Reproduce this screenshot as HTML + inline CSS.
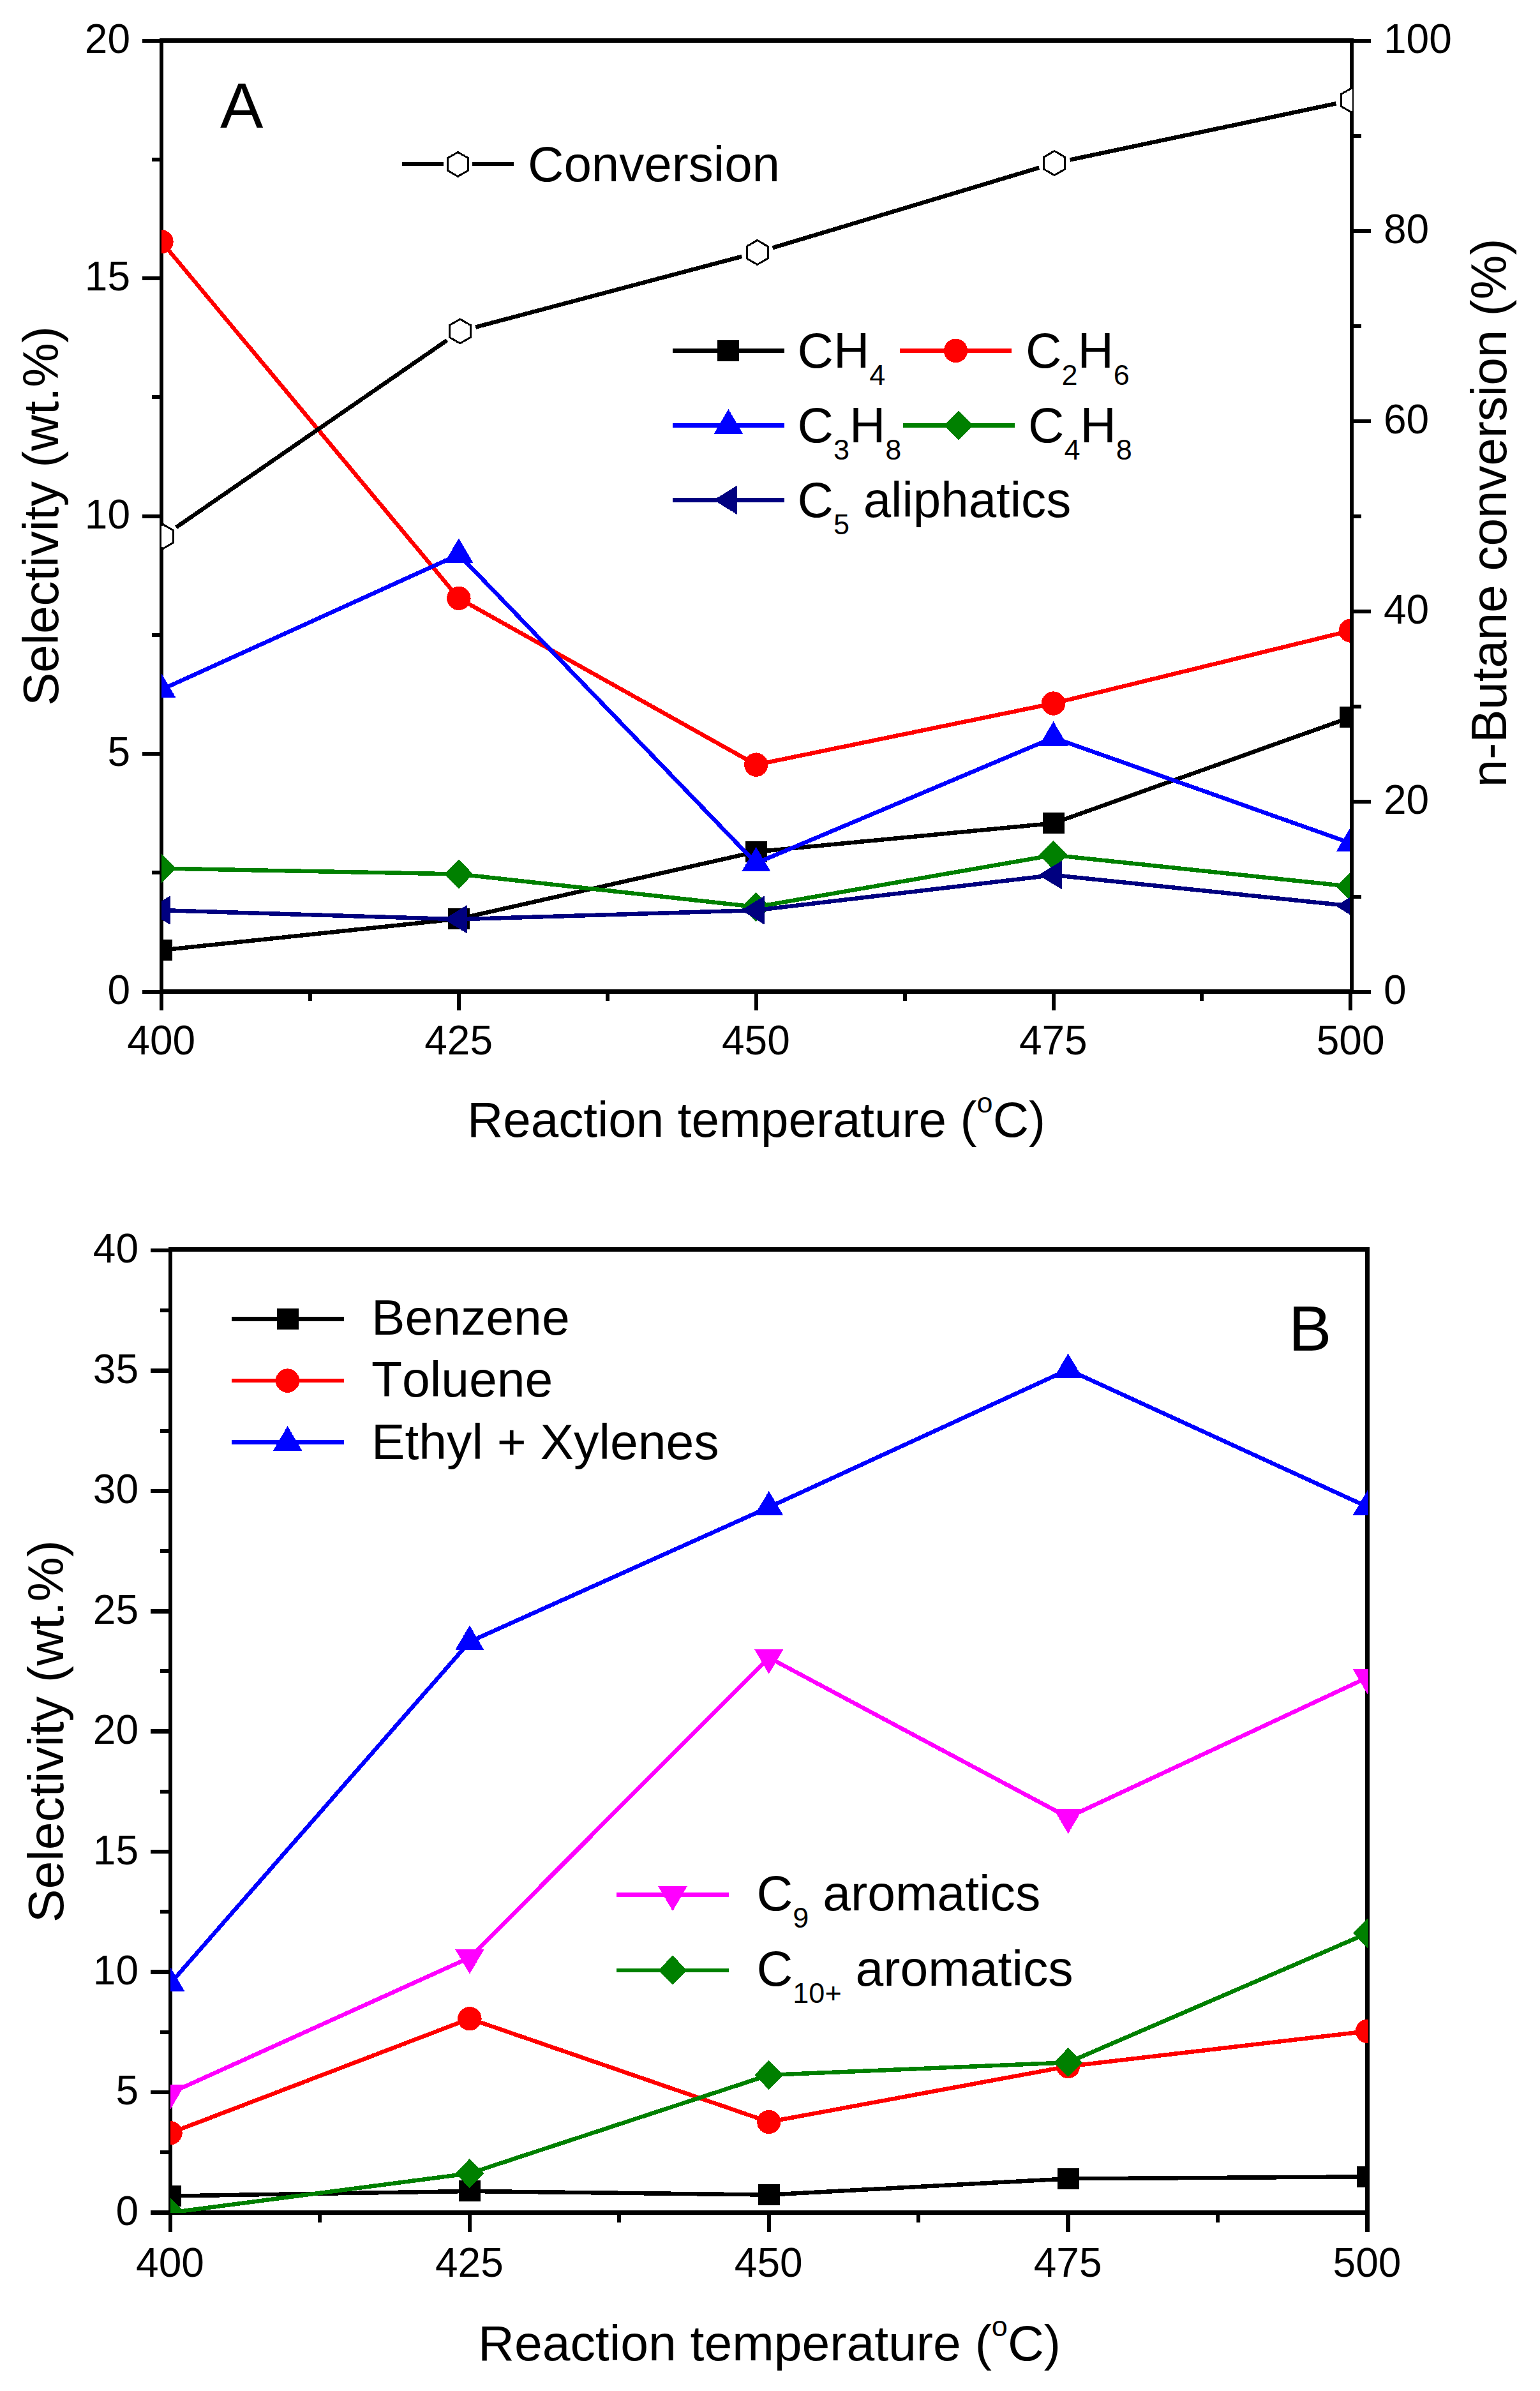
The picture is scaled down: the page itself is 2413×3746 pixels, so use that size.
<!DOCTYPE html>
<html><head><meta charset="utf-8"><title>Figure</title>
<style>html,body{margin:0;padding:0;background:#fff}svg{display:block}text{font-kerning:none;font-family:"Liberation Sans",Arial,Helvetica,sans-serif;fill:#000}</style>
</head><body>
<svg width="2413" height="3746" viewBox="0 0 2413 3746">
<rect width="2413" height="3746" fill="#fff"/>
<defs>
<clipPath id="ca"><rect x="253" y="40" width="1863" height="1513.5"/></clipPath>
<clipPath id="ca2"><rect x="253" y="40" width="1866" height="1513.5"/></clipPath>
<clipPath id="cb"><rect x="267" y="1940" width="1876.8" height="1527"/></clipPath>
</defs>

<g shape-rendering="crispEdges">
<line x1="253.00" y1="60.25" x2="253.00" y2="1556.75" stroke="#000" stroke-width="6.5"/>
<line x1="249.75" y1="63.50" x2="2121.05" y2="63.50" stroke="#000" stroke-width="7"/>
<line x1="249.75" y1="1553.50" x2="2121.05" y2="1553.50" stroke="#000" stroke-width="7"/>
<line x1="222.60" y1="1553.90" x2="253.00" y2="1553.90" stroke="#000" stroke-width="6"/>
<line x1="222.60" y1="1181.40" x2="253.00" y2="1181.40" stroke="#000" stroke-width="6"/>
<line x1="222.60" y1="808.90" x2="253.00" y2="808.90" stroke="#000" stroke-width="6"/>
<line x1="222.60" y1="436.40" x2="253.00" y2="436.40" stroke="#000" stroke-width="6"/>
<line x1="222.60" y1="63.90" x2="253.00" y2="63.90" stroke="#000" stroke-width="6"/>
<line x1="237.70" y1="1367.25" x2="253.00" y2="1367.25" stroke="#000" stroke-width="6"/>
<line x1="237.70" y1="994.75" x2="253.00" y2="994.75" stroke="#000" stroke-width="6"/>
<line x1="237.70" y1="622.25" x2="253.00" y2="622.25" stroke="#000" stroke-width="6"/>
<line x1="237.70" y1="249.75" x2="253.00" y2="249.75" stroke="#000" stroke-width="6"/>
<line x1="253.00" y1="1553.50" x2="253.00" y2="1582.50" stroke="#000" stroke-width="6"/>
<line x1="718.85" y1="1553.50" x2="718.85" y2="1582.50" stroke="#000" stroke-width="6"/>
<line x1="1184.70" y1="1553.50" x2="1184.70" y2="1582.50" stroke="#000" stroke-width="6"/>
<line x1="1650.55" y1="1553.50" x2="1650.55" y2="1582.50" stroke="#000" stroke-width="6"/>
<line x1="2116.40" y1="1553.50" x2="2116.40" y2="1582.50" stroke="#000" stroke-width="6"/>
<line x1="485.93" y1="1553.50" x2="485.93" y2="1567.80" stroke="#000" stroke-width="6"/>
<line x1="951.78" y1="1553.50" x2="951.78" y2="1567.80" stroke="#000" stroke-width="6"/>
<line x1="1417.62" y1="1553.50" x2="1417.62" y2="1567.80" stroke="#000" stroke-width="6"/>
<line x1="1883.48" y1="1553.50" x2="1883.48" y2="1567.80" stroke="#000" stroke-width="6"/>
</g>
<g clip-path="url(#ca)" shape-rendering="crispEdges">
<polyline points="253.00,1488.68 718.85,1439.52 1184.70,1334.47 1650.55,1289.77 2116.40,1123.63" fill="none" stroke="#000" stroke-width="6.5" stroke-linejoin="round"/>
<rect x="236.00" y="1472.18" width="34" height="33" fill="#000"/>
<rect x="701.85" y="1423.02" width="34" height="33" fill="#000"/>
<rect x="1167.70" y="1317.97" width="34" height="33" fill="#000"/>
<rect x="1633.55" y="1273.27" width="34" height="33" fill="#000"/>
<rect x="2099.40" y="1107.13" width="34" height="33" fill="#000"/>
<polyline points="253.00,378.63 718.85,937.38 1184.70,1198.13 1650.55,1102.03 2116.40,988.04" fill="none" stroke="#f00" stroke-width="6.5" stroke-linejoin="round"/>
<circle cx="253.00" cy="378.63" r="18.7" fill="#f00"/>
<circle cx="718.85" cy="937.38" r="18.7" fill="#f00"/>
<circle cx="1184.70" cy="1198.13" r="18.7" fill="#f00"/>
<circle cx="1650.55" cy="1102.03" r="18.7" fill="#f00"/>
<circle cx="2116.40" cy="988.04" r="18.7" fill="#f00"/>
<polyline points="253.00,1080.42 718.85,868.85 1184.70,1352.35 1650.55,1155.67 2116.40,1321.06" fill="none" stroke="#00f" stroke-width="6.5" stroke-linejoin="round"/>
<polygon points="253.00,1054.92 275.70,1093.42 230.30,1093.42" fill="#00f"/>
<polygon points="718.85,843.35 741.55,881.85 696.15,881.85" fill="#00f"/>
<polygon points="1184.70,1326.85 1207.40,1365.35 1162.00,1365.35" fill="#00f"/>
<polygon points="1650.55,1130.17 1673.25,1168.67 1627.85,1168.67" fill="#00f"/>
<polygon points="2116.40,1295.56 2139.10,1334.06 2093.70,1334.06" fill="#00f"/>
<polyline points="253.00,1360.55 718.85,1369.48 1184.70,1420.89 1650.55,1339.68 2116.40,1388.86" fill="none" stroke="#008000" stroke-width="6.5" stroke-linejoin="round"/>
<polygon points="253.00,1337.55 275.50,1360.55 253.00,1383.55 230.50,1360.55" fill="#008000"/>
<polygon points="718.85,1346.48 741.35,1369.48 718.85,1392.48 696.35,1369.48" fill="#008000"/>
<polygon points="1184.70,1397.89 1207.20,1420.89 1184.70,1443.89 1162.20,1420.89" fill="#008000"/>
<polygon points="1650.55,1316.68 1673.05,1339.68 1650.55,1362.68 1628.05,1339.68" fill="#008000"/>
<polygon points="2116.40,1365.86 2138.90,1388.86 2116.40,1411.86 2093.90,1388.86" fill="#008000"/>
<polyline points="253.00,1426.11 718.85,1440.26 1184.70,1426.11 1650.55,1370.97 2116.40,1419.40" fill="none" stroke="#000080" stroke-width="6.5" stroke-linejoin="round"/>
<polygon points="230.50,1426.11 266.00,1404.31 266.00,1447.90" fill="#000080" stroke="#000080" stroke-width="1" stroke-linejoin="round"/>
<polygon points="696.35,1440.26 731.85,1418.46 731.85,1462.06" fill="#000080" stroke="#000080" stroke-width="1" stroke-linejoin="round"/>
<polygon points="1162.20,1426.11 1197.70,1404.31 1197.70,1447.90" fill="#000080" stroke="#000080" stroke-width="1" stroke-linejoin="round"/>
<polygon points="1628.05,1370.97 1663.55,1349.17 1663.55,1392.77" fill="#000080" stroke="#000080" stroke-width="1" stroke-linejoin="round"/>
<polygon points="2093.90,1419.40 2129.40,1397.60 2129.40,1441.20" fill="#000080" stroke="#000080" stroke-width="1" stroke-linejoin="round"/>
</g>
<g shape-rendering="crispEdges">
<line x1="2117.80" y1="60.25" x2="2117.80" y2="1556.75" stroke="#000" stroke-width="6.5"/>
<line x1="2117.80" y1="1553.50" x2="2147.50" y2="1553.50" stroke="#000" stroke-width="6"/>
<line x1="2117.80" y1="1255.50" x2="2147.50" y2="1255.50" stroke="#000" stroke-width="6"/>
<line x1="2117.80" y1="957.50" x2="2147.50" y2="957.50" stroke="#000" stroke-width="6"/>
<line x1="2117.80" y1="659.50" x2="2147.50" y2="659.50" stroke="#000" stroke-width="6"/>
<line x1="2117.80" y1="361.50" x2="2147.50" y2="361.50" stroke="#000" stroke-width="6"/>
<line x1="2117.80" y1="63.50" x2="2147.50" y2="63.50" stroke="#000" stroke-width="6"/>
<line x1="2117.80" y1="1404.50" x2="2132.70" y2="1404.50" stroke="#000" stroke-width="6"/>
<line x1="2117.80" y1="1106.50" x2="2132.70" y2="1106.50" stroke="#000" stroke-width="6"/>
<line x1="2117.80" y1="808.50" x2="2132.70" y2="808.50" stroke="#000" stroke-width="6"/>
<line x1="2117.80" y1="510.50" x2="2132.70" y2="510.50" stroke="#000" stroke-width="6"/>
<line x1="2117.80" y1="212.50" x2="2132.70" y2="212.50" stroke="#000" stroke-width="6"/>
</g>
<g clip-path="url(#ca2)" shape-rendering="crispEdges">
<line x1="275.87" y1="826.33" x2="700.35" y2="533.20" stroke="#000" stroke-width="6.5"/><line x1="745.09" y1="512.58" x2="1162.39" y2="401.88" stroke="#000" stroke-width="6.5"/><line x1="1210.49" y1="388.28" x2="1628.23" y2="262.76" stroke="#000" stroke-width="6.5"/><line x1="1676.63" y1="250.39" x2="2093.34" y2="162.25" stroke="#000" stroke-width="6.5"/>
<polygon points="255.30,821.53 271.75,831.03 271.75,850.03 255.30,859.53 238.85,850.03 238.85,831.03" fill="#fff" stroke="#000" stroke-width="3" stroke-linejoin="miter"/>
<polygon points="720.92,499.99 737.38,509.49 737.38,528.49 720.92,537.99 704.47,528.49 704.47,509.49" fill="#fff" stroke="#000" stroke-width="3" stroke-linejoin="miter"/>
<polygon points="1186.55,376.47 1203.00,385.97 1203.00,404.97 1186.55,414.47 1170.10,404.97 1170.10,385.97" fill="#fff" stroke="#000" stroke-width="3" stroke-linejoin="miter"/>
<polygon points="1652.17,236.56 1668.63,246.06 1668.63,265.06 1652.17,274.56 1635.72,265.06 1635.72,246.06" fill="#fff" stroke="#000" stroke-width="3" stroke-linejoin="miter"/>
<polygon points="2117.80,138.07 2134.25,147.57 2134.25,166.57 2117.80,176.07 2101.35,166.57 2101.35,147.57" fill="#fff" stroke="#000" stroke-width="3" stroke-linejoin="miter"/>
</g>
<text x="204" y="1572.8" font-size="64" text-anchor="end">0</text>
<text x="204" y="1200.3" font-size="64" text-anchor="end">5</text>
<text x="204" y="827.8" font-size="64" text-anchor="end">10</text>
<text x="204" y="455.3" font-size="64" text-anchor="end">15</text>
<text x="204" y="82.8" font-size="64" text-anchor="end">20</text>
<text x="2168" y="1572.5" font-size="64">0</text>
<text x="2168" y="1274.5" font-size="64">20</text>
<text x="2168" y="976.5" font-size="64">40</text>
<text x="2168" y="678.5" font-size="64">60</text>
<text x="2168" y="380.5" font-size="64">80</text>
<text x="2168" y="82.5" font-size="64">100</text>
<text x="252.7" y="1652" font-size="64" text-anchor="middle">400</text>
<text x="718.6" y="1652" font-size="64" text-anchor="middle">425</text>
<text x="1184.4" y="1652" font-size="64" text-anchor="middle">450</text>
<text x="1650.3" y="1652" font-size="64" text-anchor="middle">475</text>
<text x="2116.1" y="1652" font-size="64" text-anchor="middle">500</text>
<text x="1185" y="1780.5" font-size="78.1" text-anchor="middle">Reaction temperature (<tspan font-size="45" dy="-38">o</tspan><tspan dy="38">C)</tspan></text>
<text transform="translate(91,808.5) rotate(-90)" font-size="78.1" text-anchor="middle">Selectivity (wt.%)</text>
<text transform="translate(2360.4,803.5) rotate(-90)" font-size="78.1" text-anchor="middle">n-Butane conversion (%)</text>
<text x="345" y="200" font-size="101">A</text>
<g shape-rendering="crispEdges">
<line x1="630.00" y1="257.00" x2="695.00" y2="257.00" stroke="#000" stroke-width="6.5"/>
<line x1="740.00" y1="257.00" x2="805.00" y2="257.00" stroke="#000" stroke-width="6.5"/>
<polygon points="717.50,238.40 733.95,247.90 733.95,266.90 717.50,276.40 701.05,266.90 701.05,247.90" fill="#fff" stroke="#000" stroke-width="3" stroke-linejoin="miter"/>
<text x="827" y="284" font-size="78.1">Conversion</text>
<line x1="1054.00" y1="549.40" x2="1229.00" y2="549.40" stroke="#000" stroke-width="6.5"/>
<rect x="1124.30" y="532.90" width="34" height="33" fill="#000"/>
<text x="1249.5" y="575.6" font-size="78.1"><tspan dy="0">CH</tspan><tspan font-size="45" dy="27">4</tspan></text>
<line x1="1410.00" y1="549.40" x2="1585.00" y2="549.40" stroke="#f00" stroke-width="6.5"/>
<circle cx="1497.50" cy="549.40" r="18.7" fill="#f00"/>
<text x="1607" y="575.6" font-size="78.1"><tspan dy="0">C</tspan><tspan font-size="45" dy="27">2</tspan><tspan dy="-27">H</tspan><tspan font-size="45" dy="27">6</tspan></text>
<line x1="1054.00" y1="666.50" x2="1229.00" y2="666.50" stroke="#00f" stroke-width="6.5"/>
<polygon points="1141.40,641.00 1164.10,679.50 1118.70,679.50" fill="#00f"/>
<text x="1249.5" y="693" font-size="78.1"><tspan dy="0">C</tspan><tspan font-size="45" dy="27">3</tspan><tspan dy="-27">H</tspan><tspan font-size="45" dy="27">8</tspan></text>
<line x1="1415.00" y1="666.50" x2="1590.00" y2="666.50" stroke="#008000" stroke-width="6.5"/>
<polygon points="1502.00,643.50 1524.50,666.50 1502.00,689.50 1479.50,666.50" fill="#008000"/>
<text x="1611" y="693" font-size="78.1"><tspan dy="0">C</tspan><tspan font-size="45" dy="27">4</tspan><tspan dy="-27">H</tspan><tspan font-size="45" dy="27">8</tspan></text>
<line x1="1054.00" y1="783.40" x2="1229.00" y2="783.40" stroke="#000080" stroke-width="6.5"/>
<polygon points="1119.00,783.40 1154.50,761.60 1154.50,805.20" fill="#000080" stroke="#000080" stroke-width="1" stroke-linejoin="round"/>
<text x="1249.5" y="810.4" font-size="78.1"><tspan dy="0">C</tspan><tspan font-size="45" dy="27">5</tspan><tspan dy="-27"> aliphatics</tspan></text>
</g>
<g shape-rendering="crispEdges">
<line x1="267.00" y1="1954.25" x2="267.00" y2="3469.75" stroke="#000" stroke-width="6.5"/>
<line x1="263.75" y1="1957.50" x2="2145.75" y2="1957.50" stroke="#000" stroke-width="7"/>
<line x1="263.75" y1="3466.50" x2="2145.75" y2="3466.50" stroke="#000" stroke-width="6.5"/>
<line x1="2142.50" y1="1954.25" x2="2142.50" y2="3469.75" stroke="#000" stroke-width="6.5"/>
<line x1="236.00" y1="3466.50" x2="267.00" y2="3466.50" stroke="#000" stroke-width="6.5"/>
<line x1="236.00" y1="3278.05" x2="267.00" y2="3278.05" stroke="#000" stroke-width="6.5"/>
<line x1="236.00" y1="3089.60" x2="267.00" y2="3089.60" stroke="#000" stroke-width="6.5"/>
<line x1="236.00" y1="2901.15" x2="267.00" y2="2901.15" stroke="#000" stroke-width="6.5"/>
<line x1="236.00" y1="2712.70" x2="267.00" y2="2712.70" stroke="#000" stroke-width="6.5"/>
<line x1="236.00" y1="2524.25" x2="267.00" y2="2524.25" stroke="#000" stroke-width="6.5"/>
<line x1="236.00" y1="2335.80" x2="267.00" y2="2335.80" stroke="#000" stroke-width="6.5"/>
<line x1="236.00" y1="2147.35" x2="267.00" y2="2147.35" stroke="#000" stroke-width="6.5"/>
<line x1="236.00" y1="1958.90" x2="267.00" y2="1958.90" stroke="#000" stroke-width="6.5"/>
<line x1="251.00" y1="3372.28" x2="267.00" y2="3372.28" stroke="#000" stroke-width="6"/>
<line x1="251.00" y1="3183.82" x2="267.00" y2="3183.82" stroke="#000" stroke-width="6"/>
<line x1="251.00" y1="2995.38" x2="267.00" y2="2995.38" stroke="#000" stroke-width="6"/>
<line x1="251.00" y1="2806.93" x2="267.00" y2="2806.93" stroke="#000" stroke-width="6"/>
<line x1="251.00" y1="2618.47" x2="267.00" y2="2618.47" stroke="#000" stroke-width="6"/>
<line x1="251.00" y1="2430.03" x2="267.00" y2="2430.03" stroke="#000" stroke-width="6"/>
<line x1="251.00" y1="2241.57" x2="267.00" y2="2241.57" stroke="#000" stroke-width="6"/>
<line x1="251.00" y1="2053.12" x2="267.00" y2="2053.12" stroke="#000" stroke-width="6"/>
<line x1="267.00" y1="3466.50" x2="267.00" y2="3496.50" stroke="#000" stroke-width="6.5"/>
<line x1="735.88" y1="3466.50" x2="735.88" y2="3496.50" stroke="#000" stroke-width="6.5"/>
<line x1="1204.75" y1="3466.50" x2="1204.75" y2="3496.50" stroke="#000" stroke-width="6.5"/>
<line x1="1673.62" y1="3466.50" x2="1673.62" y2="3496.50" stroke="#000" stroke-width="6.5"/>
<line x1="2142.50" y1="3466.50" x2="2142.50" y2="3496.50" stroke="#000" stroke-width="6.5"/>
<line x1="501.44" y1="3466.50" x2="501.44" y2="3481.50" stroke="#000" stroke-width="6"/>
<line x1="970.31" y1="3466.50" x2="970.31" y2="3481.50" stroke="#000" stroke-width="6"/>
<line x1="1439.19" y1="3466.50" x2="1439.19" y2="3481.50" stroke="#000" stroke-width="6"/>
<line x1="1908.06" y1="3466.50" x2="1908.06" y2="3481.50" stroke="#000" stroke-width="6"/>
</g>
<g clip-path="url(#cb)" shape-rendering="crispEdges">
<polyline points="267.00,3440.49 735.88,3432.96 1204.75,3438.61 1673.62,3413.36 2142.50,3410.34" fill="none" stroke="#000" stroke-width="6.5" stroke-linejoin="round"/>
<rect x="250.00" y="3423.99" width="34" height="33" fill="#000"/>
<rect x="718.88" y="3416.46" width="34" height="33" fill="#000"/>
<rect x="1187.75" y="3422.11" width="34" height="33" fill="#000"/>
<rect x="1656.62" y="3396.86" width="34" height="33" fill="#000"/>
<rect x="2125.50" y="3393.84" width="34" height="33" fill="#000"/>
<polyline points="267.00,3341.75 735.88,3162.72 1204.75,3324.41 1673.62,3237.34 2142.50,3182.32" fill="none" stroke="#f00" stroke-width="6.5" stroke-linejoin="round"/>
<circle cx="267.00" cy="3341.75" r="18.7" fill="#f00"/>
<circle cx="735.88" cy="3162.72" r="18.7" fill="#f00"/>
<circle cx="1204.75" cy="3324.41" r="18.7" fill="#f00"/>
<circle cx="1673.62" cy="3237.34" r="18.7" fill="#f00"/>
<circle cx="2142.50" cy="3182.32" r="18.7" fill="#f00"/>
<polyline points="267.00,3107.31 735.88,2572.12 1204.75,2361.43 1673.62,2145.84 2142.50,2360.68" fill="none" stroke="#00f" stroke-width="6.5" stroke-linejoin="round"/>
<polygon points="267.00,3081.81 289.70,3120.31 244.30,3120.31" fill="#00f"/>
<polygon points="735.88,2546.62 758.58,2585.12 713.17,2585.12" fill="#00f"/>
<polygon points="1204.75,2335.93 1227.45,2374.43 1182.05,2374.43" fill="#00f"/>
<polygon points="1673.62,2120.34 1696.33,2158.84 1650.92,2158.84" fill="#00f"/>
<polygon points="2142.50,2335.18 2165.20,2373.68 2119.80,2373.68" fill="#00f"/>
<polyline points="267.00,3279.18 735.88,3066.99 1204.75,2596.99 1673.62,2847.25 2142.50,2628.27" fill="none" stroke="#f0f" stroke-width="6.5" stroke-linejoin="round"/>
<polygon points="267.00,3304.98 289.70,3266.18 244.30,3266.18" fill="#f0f"/>
<polygon points="735.88,3092.79 758.58,3053.99 713.17,3053.99" fill="#f0f"/>
<polygon points="1204.75,2622.79 1227.45,2583.99 1182.05,2583.99" fill="#f0f"/>
<polygon points="1673.62,2873.05 1696.33,2834.25 1650.92,2834.25" fill="#f0f"/>
<polygon points="2142.50,2654.07 2165.20,2615.27 2119.80,2615.27" fill="#f0f"/>
<polyline points="267.00,3466.50 735.88,3405.07 1204.75,3250.91 1673.62,3231.31 2142.50,3028.92" fill="none" stroke="#008000" stroke-width="6.5" stroke-linejoin="round"/>
<polygon points="267.00,3443.50 289.50,3466.50 267.00,3489.50 244.50,3466.50" fill="#008000"/>
<polygon points="735.88,3382.07 758.38,3405.07 735.88,3428.07 713.38,3405.07" fill="#008000"/>
<polygon points="1204.75,3227.91 1227.25,3250.91 1204.75,3273.91 1182.25,3250.91" fill="#008000"/>
<polygon points="1673.62,3208.31 1696.12,3231.31 1673.62,3254.31 1651.12,3231.31" fill="#008000"/>
<polygon points="2142.50,3005.92 2165.00,3028.92 2142.50,3051.92 2120.00,3028.92" fill="#008000"/>
</g>
<text x="217" y="3485.8" font-size="64" text-anchor="end">0</text>
<text x="217" y="3297.4" font-size="64" text-anchor="end">5</text>
<text x="217" y="3108.9" font-size="64" text-anchor="end">10</text>
<text x="217" y="2920.5" font-size="64" text-anchor="end">15</text>
<text x="217" y="2732.0" font-size="64" text-anchor="end">20</text>
<text x="217" y="2543.6" font-size="64" text-anchor="end">25</text>
<text x="217" y="2355.1" font-size="64" text-anchor="end">30</text>
<text x="217" y="2166.7" font-size="64" text-anchor="end">35</text>
<text x="217" y="1978.2" font-size="64" text-anchor="end">40</text>
<text x="266.5" y="3567" font-size="64" text-anchor="middle">400</text>
<text x="735.4" y="3567" font-size="64" text-anchor="middle">425</text>
<text x="1204.2" y="3567" font-size="64" text-anchor="middle">450</text>
<text x="1673.1" y="3567" font-size="64" text-anchor="middle">475</text>
<text x="2142.0" y="3567" font-size="64" text-anchor="middle">500</text>
<text x="1205.5" y="3698" font-size="78.7" text-anchor="middle">Reaction temperature (<tspan font-size="45" dy="-38">o</tspan><tspan dy="38">C)</tspan></text>
<text transform="translate(98.8,2712.5) rotate(-90)" font-size="78.7" text-anchor="middle">Selectivity (wt.%)</text>
<text x="2019" y="2115.8" font-size="101">B</text>
<g shape-rendering="crispEdges">
<line x1="363.00" y1="2066.60" x2="538.50" y2="2066.60" stroke="#000" stroke-width="6.5"/>
<rect x="433.60" y="2050.10" width="34" height="33" fill="#000"/>
<text x="582" y="2091.2" font-size="78.7">Benzene</text>
<line x1="363.00" y1="2163.10" x2="538.50" y2="2163.10" stroke="#f00" stroke-width="6.5"/>
<circle cx="450.50" cy="2163.10" r="18.7" fill="#f00"/>
<text x="582" y="2188.1" font-size="78.7">Toluene</text>
<line x1="363.00" y1="2259.70" x2="538.50" y2="2259.70" stroke="#00f" stroke-width="6.5"/>
<polygon points="450.60,2234.20 473.30,2272.70 427.90,2272.70" fill="#00f"/>
<text x="582" y="2285.5" font-size="78.7">Ethyl + Xylenes</text>
<line x1="966.00" y1="2968.30" x2="1141.50" y2="2968.30" stroke="#f0f" stroke-width="6.5"/>
<polygon points="1054.00,2994.10 1076.70,2955.30 1031.30,2955.30" fill="#f0f"/>
<text x="1185.5" y="2993.3" font-size="78.7"><tspan dy="0">C</tspan><tspan font-size="45" dy="27">9</tspan><tspan dy="-27"> aromatics</tspan></text>
<line x1="966.00" y1="3086.80" x2="1141.50" y2="3086.80" stroke="#008000" stroke-width="6.5"/>
<polygon points="1054.00,3063.80 1076.50,3086.80 1054.00,3109.80 1031.50,3086.80" fill="#008000"/>
<text x="1185.5" y="3111.3" font-size="78.7"><tspan dy="0">C</tspan><tspan font-size="45" dy="27">10+</tspan><tspan dy="-27"> aromatics</tspan></text>
</g>
</svg></body></html>
